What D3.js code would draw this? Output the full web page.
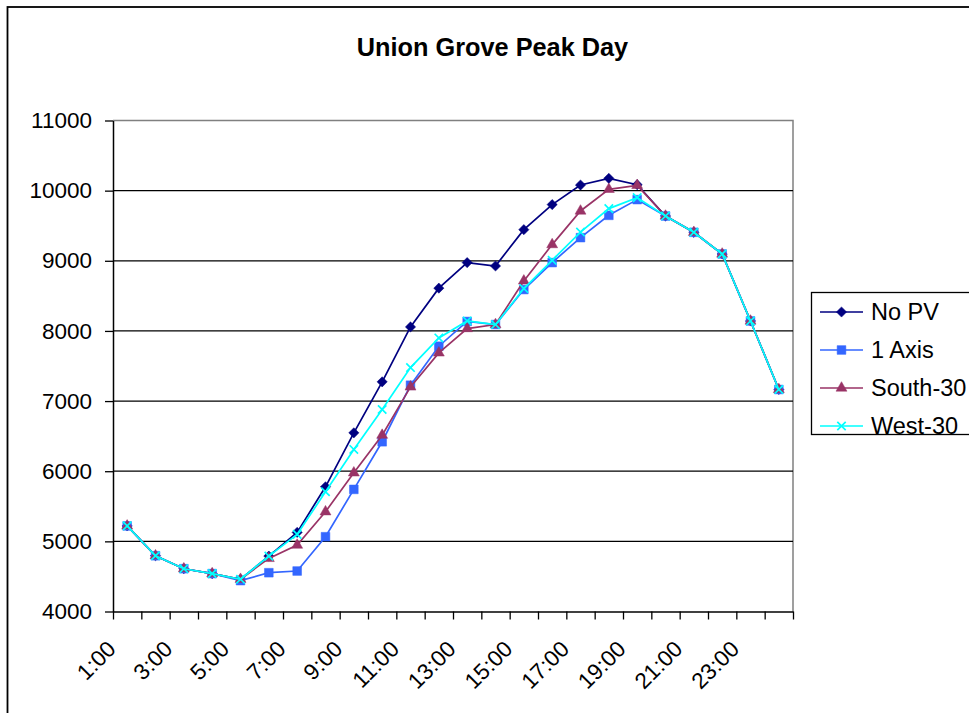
<!DOCTYPE html>
<html>
<head>
<meta charset="utf-8">
<script src="https://cdn.jsdelivr.net/npm/d3@7"></script>
<style>
  html, body { margin: 0; padding: 0; background: #fff; }
  svg { display: block; font-family: "Liberation Sans", Arial, sans-serif; }
</style>
</head>
<body>
<svg id="chart" width="969" height="713"></svg>
<script>
// Hourly load on the peak day, one series per PV configuration
const hours = ["1:00","2:00","3:00","4:00","5:00","6:00","7:00","8:00","9:00","10:00","11:00","12:00",
               "13:00","14:00","15:00","16:00","17:00","18:00","19:00","20:00","21:00","22:00","23:00","24:00"];
const hourLabels = ["1:00","3:00","5:00","7:00","9:00","11:00","13:00","15:00","17:00","19:00","21:00","23:00"];
const yTicks = [4000,5000,6000,7000,8000,9000,10000,11000];

const noPV    = [5220,4795,4610,4540,4460,4790,5128,5778,6547,7274,8057,8610,8974,8926,9444,9801,10080,10175,10085,9638,9406,9097,8142,7165];
const oneAxis = [5220,4795,4610,4540,4440,4553,4577,5066,5741,6420,7226,7782,8135,8091,8590,8974,9330,9648,9872,9638,9406,9097,8142,7165];
const south30 = [5220,4795,4610,4540,4460,4757,4947,5422,5977,6514,7202,7687,8034,8091,8713,9231,9710,10019,10076,9638,9406,9097,8142,7165];
const west30  = [5220,4795,4610,4540,4460,4790,5100,5707,6310,6880,7478,7900,8142,8091,8604,9007,9410,9744,9900,9638,9406,9097,8142,7165];

const seriesNames = ["No PV","1 Axis","South-30","West-30"];
const seriesData  = [noPV, oneAxis, south30, west30];
const seriesColors = ["#000080","#3366FF","#993366","#00FFFF"];
const seriesMarkers = ["diamond","square","triangle","x"];

const svg = d3.select("#chart");
const plot = { left: 113, right: 793, top: 120.5, bottom: 611.5 };

// outer chart frame
svg.append("rect")
  .attr("x", 7.5).attr("y", 7).attr("width", 980).attr("height", 730)
  .attr("fill", "#fff").attr("stroke", "#000").attr("stroke-width", 1.8);

// title
svg.append("text")
  .attr("x", 492.5).attr("y", 56)
  .attr("text-anchor", "middle")
  .attr("font-size", 25.3).attr("font-weight", "bold")
  .text("Union Grove Peak Day");

const x = d3.scaleBand().domain(hours).range([plot.left, plot.right]).paddingInner(0).paddingOuter(0);
const cx = d => x(d) + x.bandwidth() / 2;
const y = d3.scaleLinear().domain([4000, 11000]).range([plot.bottom, plot.top]);

// plot area border (top and right in grey)
svg.append("path")
  .attr("d", `M${plot.left},${plot.top}H${plot.right}V${plot.bottom}`)
  .attr("fill", "none").attr("stroke", "#808080").attr("stroke-width", 1.5);

// horizontal gridlines
svg.append("g").selectAll("line")
  .data(yTicks.filter(v => v > 4000 && v < 11000))
  .join("line")
  .attr("x1", plot.left).attr("x2", plot.right)
  .attr("y1", d => y(d)).attr("y2", d => y(d))
  .attr("stroke", "#000").attr("stroke-width", 1.3);

// y axis
const yAxis = svg.append("g")
  .attr("transform", `translate(${plot.left},0)`)
  .call(d3.axisLeft(y).tickValues(yTicks).tickFormat(d => d).tickSize(8).tickPadding(13).tickSizeOuter(0));
yAxis.select(".domain").attr("stroke", "#000").attr("stroke-width", 1.5);
yAxis.selectAll(".tick line").attr("stroke", "#000").attr("stroke-width", 1.3);
yAxis.selectAll(".tick text").attr("font-size", 22.5).attr("fill", "#000")
  .attr("font-family", "'Liberation Sans', Arial, sans-serif");

// x axis: tick marks on category boundaries
const xb = d3.scaleLinear().domain([0, hours.length]).range([plot.left, plot.right]);
const xTickAxis = svg.append("g")
  .attr("transform", `translate(0,${plot.bottom})`)
  .call(d3.axisBottom(xb).tickValues(d3.range(hours.length + 1)).tickFormat("").tickSize(8).tickSizeOuter(0));
xTickAxis.select(".domain").attr("stroke", "#000").attr("stroke-width", 1.5);
xTickAxis.selectAll(".tick line").attr("stroke", "#000").attr("stroke-width", 1.3);

// x axis: rotated hour labels under every other category
const xLabelAxis = svg.append("g")
  .attr("transform", `translate(0,${plot.bottom})`)
  .call(d3.axisBottom(x).tickValues(hourLabels).tickSize(0));
xLabelAxis.select(".domain").remove();
xLabelAxis.selectAll(".tick text")
  .attr("x", 0).attr("y", 0).attr("dy", 0)
  .attr("text-anchor", "end")
  .attr("transform", "translate(-10,39) rotate(-45)")
  .attr("font-size", 22.5).attr("fill", "#000")
  .attr("font-family", "'Liberation Sans', Arial, sans-serif");

// marker shapes
function markerPath(type) {
  if (type === "diamond") return d3.symbol(d3.symbolSquare, 52)();
  if (type === "square") return d3.symbol(d3.symbolSquare, 76)();
  if (type === "triangle") return d3.symbol(d3.symbolTriangle, 52)();
  const p = d3.path(); const r = 4.2;
  p.moveTo(-r, -r); p.lineTo(r, r); p.moveTo(r, -r); p.lineTo(-r, r);
  return p.toString();
}
function drawMarker(sel, type, color) {
  sel.append("path")
    .attr("d", markerPath(type))
    .attr("transform", type === "diamond" ? "rotate(45)" : null)
    .attr("fill", type === "x" ? "none" : color)
    .attr("stroke", color)
    .attr("stroke-width", type === "x" ? 1.7 : 0.5);
}

const line = d3.line().x((d, i) => cx(hours[i])).y(d => y(d));

seriesData.forEach((vals, s) => {
  const g = svg.append("g");
  g.append("path")
    .attr("d", line(vals))
    .attr("fill", "none")
    .attr("stroke", seriesColors[s])
    .attr("stroke-width", 1.7);
  g.selectAll("g.pt")
    .data(vals)
    .join("g")
    .attr("class", "pt")
    .attr("transform", (d, i) => `translate(${cx(hours[i])},${y(d)})`)
    .each(function () { drawMarker(d3.select(this), seriesMarkers[s], seriesColors[s]); });
});

// legend
const legend = svg.append("g");
legend.append("rect")
  .attr("x", 811.5).attr("y", 292.5).attr("width", 175).attr("height", 142)
  .attr("fill", "#fff").attr("stroke", "#000").attr("stroke-width", 1.3);
seriesNames.forEach((name, s) => {
  const ly = 312 + s * 38;
  const item = legend.append("g");
  item.append("line")
    .attr("x1", 820).attr("x2", 863).attr("y1", ly).attr("y2", ly)
    .attr("stroke", seriesColors[s]).attr("stroke-width", 1.7);
  const m = item.append("g").attr("transform", `translate(841.5,${ly})`);
  drawMarker(m, seriesMarkers[s], seriesColors[s]);
  item.append("text")
    .attr("x", 871).attr("y", ly).attr("dy", "0.36em")
    .attr("font-size", 23.5)
    .text(name);
});
</script>
</body>
</html>
